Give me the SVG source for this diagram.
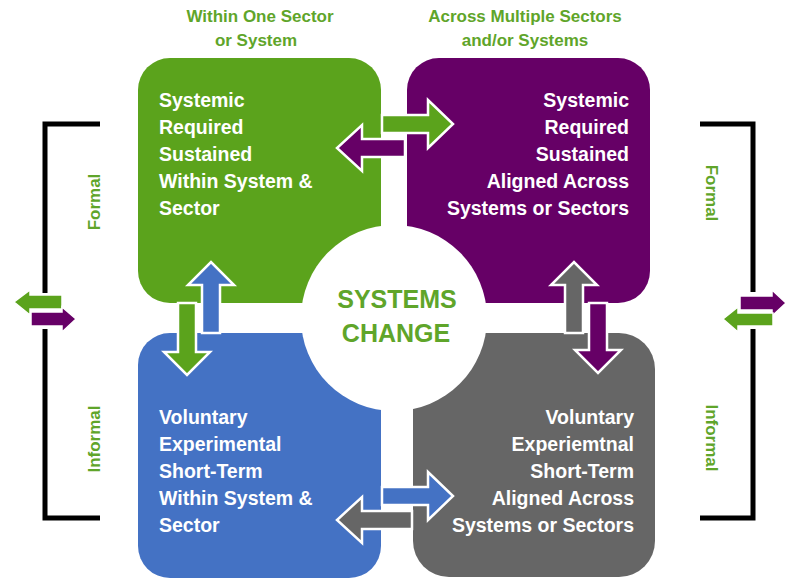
<svg xmlns="http://www.w3.org/2000/svg" width="790" height="579" viewBox="0 0 790 579">
<style>
.lbl{font-family:"Liberation Sans",Arial,sans-serif;font-weight:bold;fill:#5fa52a;font-size:17px}
.q{font-family:"Liberation Sans",Arial,sans-serif;font-weight:bold;fill:#ffffff;font-size:19.5px}
.big{font-family:"Liberation Sans",Arial,sans-serif;font-weight:bold;fill:#5fa52a;font-size:25px;text-anchor:middle}
.arr{stroke:#ffffff;stroke-width:2.5;stroke-linejoin:miter}
.sarr{stroke:#ffffff;stroke-width:1.5}
.g{fill:#5ba31c}.p{fill:#660066}.b{fill:#4472c4}.k{fill:#666666}
.br{fill:none;stroke:#000000;stroke-width:5}
</style>
<rect width="790" height="579" fill="#ffffff"/>
<g id="header-left"><text class="lbl" x="260" y="22" text-anchor="middle">Within One Sector</text><text class="lbl" x="256" y="46" text-anchor="middle">or System</text></g>
<g id="header-right"><text class="lbl" x="525" y="22" text-anchor="middle">Across Multiple Sectors</text><text class="lbl" x="525" y="46" text-anchor="middle">and/or Systems</text></g>
<g id="q-green"><rect class="g" x="138" y="58" width="243" height="245" rx="32"/>
<text class="q" x="159" y="107">Systemic</text><text class="q" x="159" y="134">Required</text><text class="q" x="159" y="161">Sustained</text><text class="q" x="159" y="188">Within System &amp;</text><text class="q" x="159" y="215">Sector</text></g>
<g id="q-purple"><rect class="p" x="407" y="58" width="243" height="245" rx="32"/>
<g text-anchor="end"><text class="q" x="629" y="107">Systemic</text><text class="q" x="629" y="134">Required</text><text class="q" x="629" y="161">Sustained</text><text class="q" x="629" y="188">Aligned Across</text><text class="q" x="629" y="215">Systems or Sectors</text></g></g>
<g id="q-blue"><rect class="b" x="138" y="333" width="243" height="245" rx="32"/>
<text class="q" x="159" y="424">Voluntary</text><text class="q" x="159" y="451">Experimental</text><text class="q" x="159" y="478">Short-Term</text><text class="q" x="159" y="505">Within System &amp;</text><text class="q" x="159" y="532">Sector</text></g>
<g id="q-grey"><rect class="k" x="413" y="333" width="242" height="244" rx="36"/>
<g text-anchor="end"><text class="q" x="634" y="424">Voluntary</text><text class="q" x="634" y="451">Experiemtnal</text><text class="q" x="634" y="478">Short-Term</text><text class="q" x="634" y="505">Aligned Across</text><text class="q" x="634" y="532">Systems or Sectors</text></g></g>
<g id="center"><circle cx="394" cy="318" r="93" fill="#ffffff"/>
<text class="big" x="397" y="308">SYSTEMS</text><text class="big" x="396" y="342">CHANGE</text></g>
<g id="connectors">
<polygon class="arr g" points="382,115 428,115 428,100 453,124 428,148 428,133 382,133"/>
<polygon class="arr p" points="405,139 362,139 362,125 337,148 362,171 362,157 405,157"/>
<polygon class="arr b" points="382,487 428,487 428,472 453,496 428,520 428,505 382,505"/>
<polygon class="arr k" points="412,511 362,511 362,497 337,520 362,543 362,529 412,529"/>
<polygon class="arr g" points="178,303 196,303 196,352 210,352 187,375 164,352 178,352"/>
<polygon class="arr b" points="202,333 202,285 188,285 211,262 234,285 220,285 220,333"/>
<polygon class="arr k" points="565,333 565,285 551,285 574,262 597,285 583,285 583,333"/>
<polygon class="arr p" points="589,303 607,303 607,350 621,350 598,373 575,350 589,350"/>
<path class="br" d="M100,124 H45 V293 M45,329 V518 H100"/>
<path class="br" d="M700,124 H753 V292 M753,329 V518 H700"/>
<polygon class="sarr g" points="62,295 30,295 30,290 14,302 30,315 30,309 62,309"/>
<polygon class="sarr p" points="31,312 62,312 62,307 76,319 62,332 62,326 31,326"/>
<polygon class="sarr p" points="740,296 772,296 772,290 786,303 772,316 772,310 740,310"/>
<polygon class="sarr g" points="773,313 738,313 738,307 723,319 738,332 738,326 773,326"/>
</g>
<g id="side-labels">
<text class="lbl" text-anchor="middle" transform="translate(100,202) rotate(-90)">Formal</text>
<text class="lbl" text-anchor="middle" transform="translate(100,439) rotate(-90)">Informal</text>
<text class="lbl" text-anchor="middle" transform="translate(706,193) rotate(90)">Formal</text>
<text class="lbl" text-anchor="middle" transform="translate(706,438) rotate(90)">Informal</text>
</g>
</svg>
